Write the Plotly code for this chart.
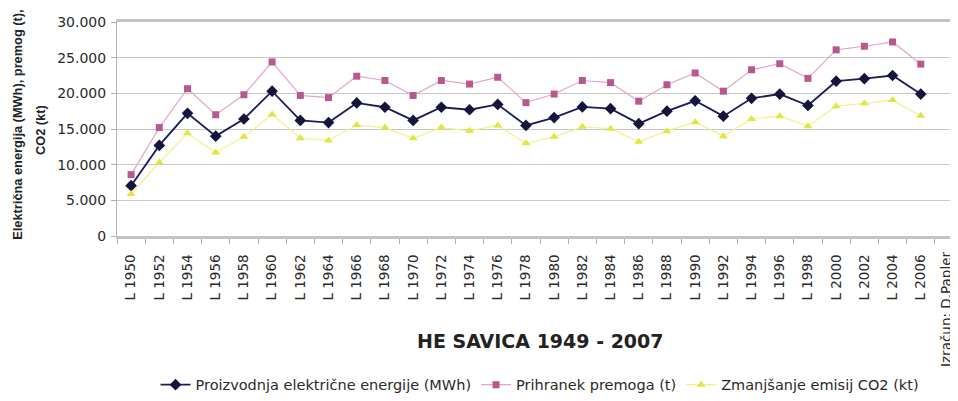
import plotly.graph_objects as go

years = ["L 1950", "L 1952", "L 1954", "L 1956", "L 1958", "L 1960", "L 1962", "L 1964",
         "L 1966", "L 1968", "L 1970", "L 1972", "L 1974", "L 1976", "L 1978", "L 1980",
         "L 1982", "L 1984", "L 1986", "L 1988", "L 1990", "L 1992", "L 1994", "L 1996",
         "L 1998", "L 2000", "L 2002", "L 2004", "L 2006"]

proizvodnja = [7050, 12700, 17200, 14000, 16400, 20300, 16200, 15900, 18650, 18050,
               16200, 18050, 17700, 18450, 15500, 16600, 18100, 17850, 15750, 17500,
               18950, 16800, 19300, 19900, 18300, 21700, 22050, 22500, 19900]

premog = [8600, 15200, 20650, 17000, 19800, 24400, 19700, 19400, 22400, 21800,
          19700, 21800, 21300, 22250, 18700, 19900, 21800, 21500, 18900, 21200,
          22850, 20300, 23300, 24150, 22100, 26100, 26600, 27200, 24100]

co2 = [5900, 10300, 14400, 11700, 13900, 17050, 13700, 13400, 15550, 15200,
       13700, 15200, 14750, 15500, 13000, 13900, 15300, 15050, 13200, 14700,
       15950, 14000, 16400, 16800, 15400, 18200, 18600, 19050, 16850]

names = ["Proizvodnja električne energije (MWh)", "Prihranek premoga (t)",
         "Zmanjšanje emisij CO2 (kt)"]
yticks = [0, 5000, 10000, 15000, 20000, 25000, 30000]

fig = go.Figure()
fig.add_trace(go.Scatter(x=years, y=proizvodnja, name=names[0], mode="lines+markers",
                         line=dict(color="#1c1c5a", width=1.8),
                         marker=dict(symbol="diamond", size=9, color="#14143c")))
fig.add_trace(go.Scatter(x=years, y=premog, name=names[1], mode="lines+markers",
                         line=dict(color="#e2a6cc", width=1.2),
                         marker=dict(symbol="square", size=7, color="#b8588e")))
fig.add_trace(go.Scatter(x=years, y=co2, name=names[2], mode="lines+markers",
                         line=dict(color="#f2f28a", width=1.2),
                         marker=dict(symbol="triangle-up", size=8, color="#e2e640")))

xtick_font = dict(family="DejaVu Sans", size=13.5, color="#2a2a2a")
ytick_font = dict(family="DejaVu Sans", size=14, color="#2a2a2a")

# page body has an 8px margin: figure drawn 8px smaller and offset accordingly
fig.update_layout(
    width=950, height=393,
    margin=dict(l=109, r=0, t=14, b=165),
    paper_bgcolor="white", plot_bgcolor="white",
    separators=",.",
    showlegend=True,
    legend=dict(orientation="h", x=0.503, xanchor="center", y=-0.695, yanchor="middle",
                font=dict(family="DejaVu Sans", size=14.5, color="#2a2a2a"),
                itemwidth=30, tracegroupgap=0),
    xaxis=dict(type="category", range=[-0.5, 29.32], tickangle=-90,
               tickson="boundaries", ticks="outside", ticklen=5, tickcolor="#b0b0b0",
               showline=True, mirror=True, linecolor="#c4c4c4", linewidth=3,
               showgrid=False, tickfont=xtick_font, ticklabelstandoff=10),
    yaxis=dict(range=[0, 30000], tickvals=yticks, tickformat=",d",
               showgrid=True, gridcolor="#c8c8c8", gridwidth=1,
               showline=True, linecolor="#b0b0b0", linewidth=1,
               ticks="outside", ticklen=5, tickcolor="#b0b0b0",
               tickfont=ytick_font, zeroline=False, ticklabelstandoff=2),
    annotations=[
        dict(text="<b>HE SAVICA 1949 - 2007</b>", xref="paper", yref="paper",
             x=0.503, y=-0.49, xanchor="center", yanchor="middle", showarrow=False,
             font=dict(family="DejaVu Sans", size=19, color="#222222")),
        dict(text="<b>Električna energija (MWh), premog (t),</b>", xref="paper", yref="paper",
             x=-0.1177, y=0.52, xanchor="center", yanchor="middle", showarrow=False,
             textangle=-90, font=dict(family="Liberation Sans", size=12.8, color="#222222")),
        dict(text="<b>CO2 (kt)</b>", xref="paper", yref="paper",
             x=-0.0916, y=0.495, xanchor="center", yanchor="middle", showarrow=False,
             textangle=-90, font=dict(family="Liberation Sans", size=12.8, color="#222222")),
        dict(text="Izračun: D.Papler", xref="paper", yref="paper",
             x=0.9857, y=-0.341, xanchor="center", yanchor="middle", showarrow=False,
             textangle=-90, font=dict(family="DejaVu Sans", size=13.5, color="#2a2a2a")),
    ],
)

fig.write_html("out.html")
